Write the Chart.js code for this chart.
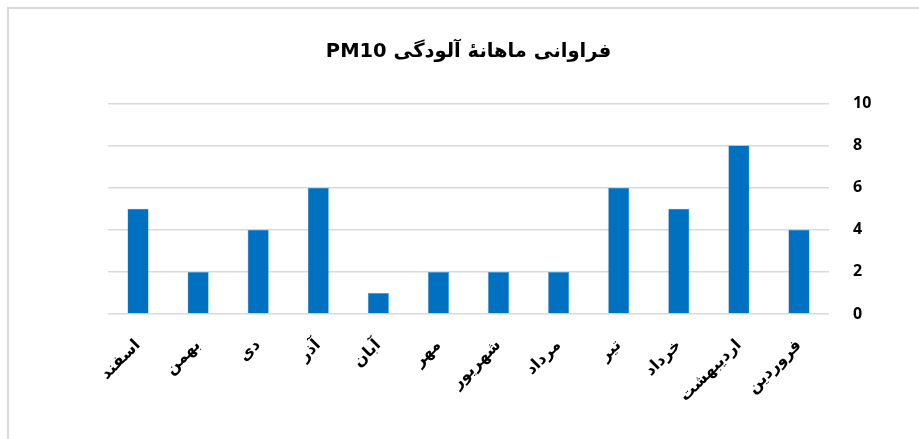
<!DOCTYPE html>
<html>
<head>
<meta charset="utf-8">
<script src="https://cdn.jsdelivr.net/npm/chart.js@4"></script>
<style>
  html, body { margin: 0; padding: 0; background: #fff; overflow: hidden; }
  #frame {
    position: absolute; left: 7px; top: 7px;
    width: 1000px; height: 1000px;
    border: 2px solid #d9d9d9;
  }
  #wrap { position: absolute; left: 0; top: 0; width: 919px; height: 439px; }
</style>
</head>
<body>
<div id="frame"></div>
<div id="wrap"><canvas id="myChart" dir="rtl"></canvas></div>
<script>
// months in calendar order, x axis is reversed (RTL)
var months = ["فروردین", "اردیبهشت", "خرداد", "تیر", "مرداد", "شهریور", "مهر", "آبان", "آذر", "دی", "بهمن", "اسفند"];
var counts = [4, 8, 5, 6, 2, 2, 2, 1, 6, 4, 2, 5];
var yTicks = [0, 2, 4, 6, 8, 10];
var chartTitle = "فراوانی ماهانهٔ آلودگی PM10";

const ctx = document.getElementById('myChart');
var myChart = new Chart(ctx, {
  type: 'bar',
  data: {
    labels: months,
    datasets: [{
      data: counts,
      backgroundColor: "#0070C0",
      borderColor: "#3d8fd0",
      borderWidth: 0.5,
      barPercentage: 0.35,
      categoryPercentage: 1
    }]
  },
  options: {
    responsive: true,
    maintainAspectRatio: false,
    animation: false,
    layout: {
      padding: { left: 108, right: 0, top: 0, bottom: 0 }
    },
    scales: {
      x: {
        reverse: true,
        grid: { display: false },
        border: { display: false },
        ticks: {
          color: "#000",
          minRotation: 45,
          maxRotation: 45,
          autoSkip: false,
          padding: 14,
          font: { family: '"DejaVu Sans", sans-serif', size: 16, weight: 'bold' }
        },
        afterFit: (s) => { s.height = 125; }
      },
      y: {
        position: 'right',
        min: 0,
        max: 10,
        afterBuildTicks: (s) => { s.ticks = yTicks.map(v => ({ value: v })); },
        grid: { color: "#d9d9d9", lineWidth: 1.5, drawTicks: false },
        border: { display: false },
        ticks: {
          color: "#000",
          padding: 24,
          font: { family: '"Open Sans", sans-serif', size: 16, weight: 'bold' }
        },
        afterFit: (s) => { s.width = 90; }
      }
    },
    plugins: {
      legend: { display: false },
      tooltip: { enabled: false },
      title: {
        display: true,
        text: chartTitle,
        fullSize: false,
        color: "#000",
        font: { family: '"DejaVu Sans", sans-serif', size: 19.5, weight: 'bold' },
        padding: { top: 40, bottom: 40 }
      }
    }
  }
});
</script>
</body>
</html>
